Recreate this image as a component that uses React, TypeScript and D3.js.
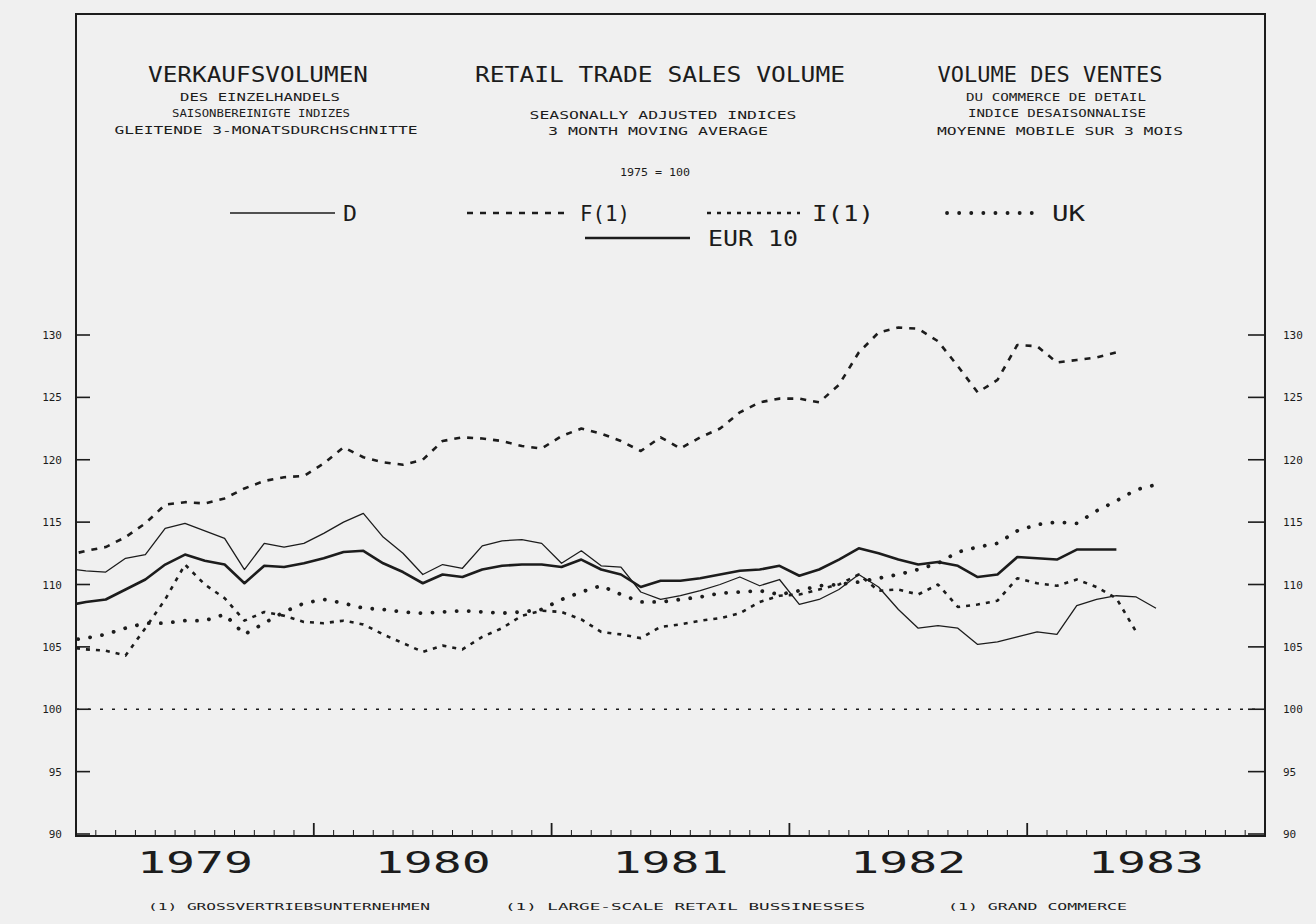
import React from "react";
import * as d3 from "d3";

const W = 1316;
const H = 924;

// monthly 3-month moving averages, first value = Dec 1978 (clipped at the frame)
const seriesD = [111.3, 111.1, 111.0, 112.1, 112.4, 114.5, 114.9, 114.3, 113.7, 111.2, 113.3, 113.0, 113.3, 114.1, 115.0, 115.7, 113.8, 112.5, 110.8, 111.6, 111.3, 113.1, 113.5, 113.6, 113.3, 111.7, 112.7, 111.5, 111.4, 109.4, 108.8, 109.1, 109.5, 110.0, 110.6, 109.9, 110.4, 108.4, 108.8, 109.6, 110.8, 109.8, 108.0, 106.5, 106.7, 106.5, 105.2, 105.4, 105.8, 106.2, 106.0, 108.3, 108.8, 109.1, 109.0, 108.1];
const seriesF = [112.3, 112.7, 113.0, 113.8, 114.9, 116.4, 116.6, 116.5, 116.9, 117.7, 118.3, 118.6, 118.7, 119.7, 121.0, 120.2, 119.8, 119.6, 120.0, 121.5, 121.8, 121.7, 121.5, 121.1, 120.9, 121.9, 122.5, 122.1, 121.5, 120.7, 121.8, 120.9, 121.8, 122.5, 123.8, 124.6, 124.9, 124.9, 124.6, 126.0, 128.6, 130.2, 130.6, 130.5, 129.5, 127.5, 125.4, 126.4, 129.2, 129.1, 127.8, 128.0, 128.2, 128.6];
const seriesI = [105.0, 104.8, 104.7, 104.3, 106.5, 108.8, 111.6, 110.0, 108.9, 107.1, 107.8, 107.5, 107.0, 106.9, 107.1, 106.8, 106.0, 105.3, 104.6, 105.1, 104.8, 105.8, 106.5, 107.5, 107.9, 107.8, 107.2, 106.2, 106.0, 105.7, 106.6, 106.8, 107.1, 107.3, 107.7, 108.6, 109.1, 109.2, 109.6, 110.0, 110.8, 109.5, 109.6, 109.2, 110.0, 108.2, 108.4, 108.7, 110.5, 110.1, 109.9, 110.4, 109.8, 108.9, 106.2];
const seriesUK = [105.5, 105.7, 106.0, 106.5, 106.9, 106.9, 107.1, 107.1, 107.6, 106.0, 106.9, 107.8, 108.5, 108.8, 108.5, 108.1, 108.0, 107.8, 107.7, 107.8, 107.9, 107.8, 107.7, 107.8, 108.0, 108.8, 109.4, 109.9, 109.2, 108.6, 108.6, 108.8, 109.0, 109.3, 109.4, 109.5, 109.2, 109.5, 109.9, 110.0, 110.2, 110.5, 110.8, 111.2, 111.7, 112.6, 113.0, 113.3, 114.3, 114.8, 115.0, 114.9, 115.9, 116.7, 117.6, 118.0];
const seriesEUR = [108.3, 108.6, 108.8, 109.6, 110.4, 111.6, 112.4, 111.9, 111.6, 110.1, 111.5, 111.4, 111.7, 112.1, 112.6, 112.7, 111.7, 111.0, 110.1, 110.8, 110.6, 111.2, 111.5, 111.6, 111.6, 111.4, 112.0, 111.2, 110.8, 109.8, 110.3, 110.3, 110.5, 110.8, 111.1, 111.2, 111.5, 110.7, 111.2, 112.0, 112.9, 112.5, 112.0, 111.6, 111.8, 111.5, 110.6, 110.8, 112.2, 112.1, 112.0, 112.8, 112.8, 112.8];

const years = ["1979", "1980", "1981", "1982", "1983"];
const yTicks = [90, 95, 100, 105, 110, 115, 120, 125, 130];

const FONT = "'DejaVu Sans Mono', monospace";
const INK = "#1c1c1c";

const frame = { left: 76, top: 14, right: 1265, bottom: 836 };

// months since Jan 1979
const x = d3.scaleLinear().domain([0, 60]).range([frame.left, frame.right]);
const y = d3.scaleLinear().domain([90, 130]).range([834, 335]);

const line = d3
  .line<number>()
  .x((d, i) => x(i - 0.5))
  .y(d => y(d));

const series = [
  { key: "D", values: seriesD, width: 1.3, dash: "none", cap: "butt" },
  { key: "F(1)", values: seriesF, width: 2.6, dash: "6 7", cap: "butt" },
  { key: "I(1)", values: seriesI, width: 2.6, dash: "4 6", cap: "butt" },
  { key: "UK", values: seriesUK, width: 3.8, dash: "0.1 12", cap: "round" },
  { key: "EUR 10", values: seriesEUR, width: 2.6, dash: "none", cap: "butt" }
];
const styleOf = (k: string) => series.find(s => s.key === k)!;

function Txt({ x, y, size, len, anchor = "middle", children }: any) {
  return (
    <text
      x={x}
      y={y}
      fontSize={size}
      textAnchor={anchor}
      textLength={len}
      lengthAdjust="spacingAndGlyphs"
      fontFamily={FONT}
      fill={INK}
    >
      {children}
    </text>
  );
}

function LegendItem({ k, x1, x2, ly, tx, tlen }: any) {
  const s = styleOf(k);
  return (
    <g>
      <line
        x1={x1}
        x2={x2}
        y1={ly}
        y2={ly}
        stroke={INK}
        strokeWidth={s.width}
        strokeDasharray={s.dash}
        strokeLinecap={s.cap as any}
      />
      <Txt x={tx} y={ly + 8} size={21} len={tlen} anchor="start">
        {k}
      </Txt>
    </g>
  );
}

export default function App() {
  const months = d3.range(0, 61);
  return (
    <svg
      width={W}
      height={H}
      style={{ position: "absolute", left: 0, top: 0, display: "block" }}
    >
      <rect width={W} height={H} fill="#f0f0f0" />
      <defs>
        <clipPath id="plot">
          <rect
            x={frame.left}
            y={frame.top}
            width={frame.right - frame.left}
            height={frame.bottom - frame.top}
          />
        </clipPath>
      </defs>

      {/* titles */}
      <Txt x={258} y={82} size={21} len={220}>VERKAUFSVOLUMEN</Txt>
      <Txt x={260} y={101} size={11} len={160}>DES EINZELHANDELS</Txt>
      <Txt x={261} y={117} size={11} len={178}>SAISONBEREINIGTE INDIZES</Txt>
      <Txt x={266} y={134} size={11} len={303}>GLEITENDE 3-MONATSDURCHSCHNITTE</Txt>

      <Txt x={660} y={82} size={21} len={370}>RETAIL TRADE SALES VOLUME</Txt>
      <Txt x={663} y={119} size={11} len={267}>SEASONALLY ADJUSTED INDICES</Txt>
      <Txt x={658} y={135} size={11} len={220}>3 MONTH MOVING AVERAGE</Txt>
      <Txt x={655} y={176} size={11} len={70}>1975 = 100</Txt>

      <Txt x={1050} y={82} size={21} len={225}>VOLUME DES VENTES</Txt>
      <Txt x={1056} y={101} size={11} len={180}>DU COMMERCE DE DETAIL</Txt>
      <Txt x={1057} y={117} size={11} len={178}>INDICE DESAISONNALISE</Txt>
      <Txt x={1060} y={135} size={11} len={246}>MOYENNE MOBILE SUR 3 MOIS</Txt>

      {/* legend */}
      <LegendItem k="D" x1={230} x2={335} ly={213} tx={343} tlen={14} />
      <LegendItem k="F(1)" x1={467} x2={570} ly={213} tx={580} tlen={50} />
      <LegendItem k="I(1)" x1={707} x2={800} ly={213} tx={812} tlen={62} />
      <LegendItem k="UK" x1={947} x2={1040} ly={213} tx={1052} tlen={33} />
      <LegendItem k="EUR 10" x1={585} x2={690} ly={238} tx={708} tlen={90} />

      {/* frame */}
      <rect
        x={frame.left}
        y={frame.top}
        width={frame.right - frame.left}
        height={frame.bottom - frame.top}
        fill="none"
        stroke={INK}
        strokeWidth={2}
      />

      {/* y ticks + labels both sides */}
      {yTicks.map(v => (
        <g key={v}>
          <line x1={frame.left} x2={frame.left + 14} y1={y(v)} y2={y(v)} stroke={INK} strokeWidth={1.6} />
          <line x1={frame.right - 17} x2={frame.right} y1={y(v)} y2={y(v)} stroke={INK} strokeWidth={1.6} />
          <Txt x={62} y={y(v) + 4} size={11} anchor="end">{v}</Txt>
          <Txt x={1283} y={y(v) + 4} size={11} anchor="start">{v}</Txt>
        </g>
      ))}

      {/* 100 reference */}
      <line
        x1={frame.left}
        x2={frame.right}
        y1={y(100)}
        y2={y(100)}
        stroke={INK}
        strokeWidth={1.4}
        strokeDasharray="3 9"
      />

      {/* month ticks */}
      {months.map(m => (
        <line
          key={m}
          x1={x(m)}
          x2={x(m)}
          y1={frame.bottom}
          y2={frame.bottom - (m % 12 === 0 ? 13 : 6)}
          stroke={INK}
          strokeWidth={m % 12 === 0 ? 1.8 : 1}
        />
      ))}
      {years.map((yr, i) => (
        <Txt key={yr} x={x(i * 12 + 6)} y={873} size={30} len={116}>
          {yr}
        </Txt>
      ))}

      {/* series */}
      <g clipPath="url(#plot)" fill="none">
        {series.map(s => (
          <path
            key={s.key}
            d={line(s.values) || ""}
            stroke={INK}
            strokeWidth={s.width}
            strokeDasharray={s.dash}
            strokeLinecap={s.cap as any}
            strokeLinejoin="round"
          />
        ))}
      </g>

      {/* footnotes */}
      <Txt x={148} y={910} size={9} len={282} anchor="start">(1) GROSSVERTRIEBSUNTERNEHMEN</Txt>
      <Txt x={505} y={910} size={9} len={360} anchor="start">(1) LARGE-SCALE RETAIL BUSSINESSES</Txt>
      <Txt x={948} y={910} size={9} len={179} anchor="start">(1) GRAND COMMERCE</Txt>
    </svg>
  );
}
